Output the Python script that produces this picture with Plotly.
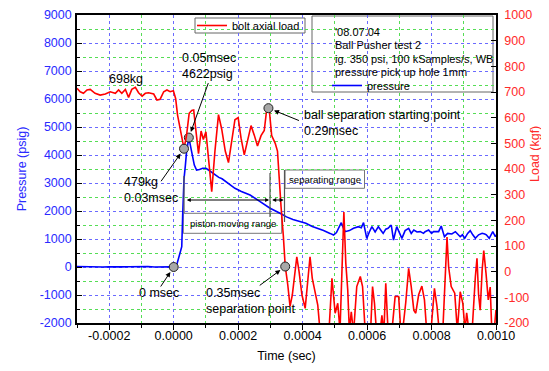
import plotly.graph_objects as go
import numpy as np

# ---------------- data (time in microseconds) ----------------
pressure_t_us = [-300, -280, -260, -240, -220, -200, -180, -160, -140, -120, -100, -80, -60, -40, -20, -10, 0,
                 5, 10, 14, 20, 25, 28, 30, 32, 36, 40, 47, 56, 64, 71, 80, 90, 100, 108, 118, 128, 140, 150,
                 170, 190, 210, 237, 260, 280, 299, 330, 350, 370, 390, 410, 430, 450, 465, 485, 496, 505,
                 513, 520, 527, 532, 545, 558, 573, 582, 589, 599, 607, 615, 625, 635, 645, 650, 658, 665,
                 675, 682, 692, 700, 708, 718, 729, 737, 745, 755, 765, 775, 780, 791, 800, 806, 815, 822,
                 830, 840, 850, 863, 874, 889, 896, 903, 912, 920, 928, 936, 946, 957, 965, 970, 979, 990,
                 998, 1000]
pressure_psig = [20, 10, 20, 15, 0, 10, 20, 5, 10, 15, 10, 20, 0, 10, 15, 5, 0,
                 30, 100, 250, 450, 725, 1900, 2700, 3150, 3600, 4120, 4622, 4120, 3640, 3464, 3480, 3525, 3525,
                 3464, 3380, 3290, 3200, 3150, 2990, 2810, 2700, 2571, 2400, 2250, 2100, 1920, 1790, 1700, 1640,
                 1560, 1450, 1380, 1300, 1200, 1140, 1230, 1420, 1583, 1380, 1262, 1300, 1381, 1440, 1400, 1583,
                 1024, 1250, 1440, 1250, 1440, 1280, 1200, 1350, 1381, 1500, 964, 1440, 1200, 1024, 1300, 1381,
                 1200, 1321, 1250, 1262, 1202, 1262, 1321, 1200, 1262, 1250, 1262, 1464, 1083, 1200, 1180, 1262,
                 1083, 1150, 1024, 1200, 1298, 1150, 1024, 1150, 1202, 1180, 1150, 1024, 1262, 1083, 1150]

load_t_us = [-300, -290, -280, -269, -259, -244, -228, -212, -197, -181, -171, -161, -150, -140, -130, -119,
             -109, -98, -88, -78, -62, -52, -42, -31, -21, -11, -1, 6, 12, 20, 27, 32, 40, 48, 56, 62, 68, 77,
             85, 92, 100, 108, 118, 128, 139, 149, 160, 170, 180, 190, 200, 209, 219, 230, 240, 250, 260, 271,
             281, 289, 296, 304, 315, 322, 328, 333, 340, 346, 354, 361, 368, 375, 382, 389, 398, 408, 415, 423,
             430, 439, 447, 454, 462, 472, 481, 491, 501, 509, 516, 528, 534, 540, 545, 551, 558, 568, 579, 586,
             594, 603, 611, 617, 623, 630, 640, 646, 652, 658, 665, 675, 687, 698, 705, 713, 720, 729, 737, 745,
             751, 760, 770, 778, 786, 797, 809, 817, 825, 835, 840, 848, 853, 861, 872, 880, 889, 897, 904, 909,
             916, 925, 936, 941, 946, 951, 957, 962, 969, 976, 982, 987, 993, 1000]
load_kgf = [714, 701, 695, 708, 710, 695, 688, 692, 701, 695, 708, 695, 710, 679, 710, 718,
            697, 684, 695, 697, 692, 669, 672, 701, 708, 701, 705, 675, 610, 559, 520, 479, 532, 617, 628, 630,
            560, 460, 548, 515, 545, 450, 312, 470, 612, 555, 470, 425, 500, 592, 600, 520, 455, 520, 569, 532,
            490, 530, 550, 637, 638, 530, 500, 470, 338, 255, 143, 22, -52, -135, -91, -20, 58, 0, -91, -143,
            -40, 58, -26, -78, -130, -230, -280, -300, -250, -26, -162, -123, -230, 232, 33, -71, -230, -156,
            -240, -58, -19, -58, -230, -260, -230, -58, -123, -250, -240, -170, -240, -45, -230, -260, -97, -97,
            -240, -200, -120, 13, -58, -150, -162, -90, -56, -110, -250, -250, -65, -136, -250, -230, -71, 135,
            19, -58, -84, -230, -78, -123, -230, -160, -230, -250, -19, 52, -90, -150, 6, 82, -6, -110, -60,
            -230, -250, -149]

# highlighted points
pmark_t_us = [0, 47]
pmark_psig = [0, 4622]
lmark_t_us = [32, 294, 346]
lmark_kgf = [479, 637, 20]

x_ticks = [-0.0002, 0.0, 0.0002, 0.0004, 0.0006, 0.0008, 0.0010]
x_labels = ["-0.0002", "0.0000", "0.0002", "0.0004", "0.0006", "0.0008", "0.0010"]
x_minor = [-0.0003, -0.0001, 0.0001, 0.0003, 0.0005, 0.0007, 0.0009]
yl_ticks = list(range(-2000, 9001, 1000))
yl_labels = [str(v) for v in yl_ticks]
yl_minor = list(range(-1500, 9000, 1000))
yr_ticks = list(range(-200, 1001, 100))
yr_labels = [str(v) for v in yr_ticks]

info_lines = ["'08.07.04", "Ball Pusher test 2", "ig. 350 psi, 100 kSamples/s, WB", "pressure pick up hole 1mm"]

# ---------------- layout helpers (page pixel coordinates) ----------------
OFF = 8                      # default page body margin
PAGE_W, PAGE_H = 549, 371
FIG_W, FIG_H = PAGE_W - OFF, PAGE_H - OFF
L, R, T, B = 77, 496, 15, 323   # plot area edges on the page
PW, PH = R - L, B - T


def fx(p):
    return (p - L) / PW


def fy(p):
    return 1 - (p - T) / PH


FONT = "Liberation Sans, Arial, sans-serif"
BLUE = "#0000ff"
RED = "#ff0000"
GRID_BLUE = "#6a6aff"
GRID_GREEN = "#55dd55"

us = 1e-6
fig = go.Figure()
fig.add_trace(go.Scatter(x=np.array(pressure_t_us) * us, y=pressure_psig, mode="lines",
                         line=dict(color=BLUE, width=1.6), name="pressure", legend="legend2"))
fig.add_trace(go.Scatter(x=np.array(load_t_us) * us, y=load_kgf, mode="lines", yaxis="y2",
                         line=dict(color=RED, width=1.6), name="bolt axial load", legend="legend"))
mk = dict(size=9, color="#a8a8a8", line=dict(color="#222222", width=1))
fig.add_trace(go.Scatter(x=np.array(pmark_t_us) * us, y=pmark_psig, mode="markers", marker=mk,
                         showlegend=False))
fig.add_trace(go.Scatter(x=np.array(lmark_t_us) * us, y=lmark_kgf, mode="markers", marker=mk,
                         yaxis="y2", showlegend=False))

shapes = []
# legend / info boxes
shapes.append(dict(type="rect", xref="paper", yref="paper", x0=fx(195), x1=fx(305), y0=fy(33), y1=fy(18),
                   line=dict(color="#666666", width=1), fillcolor="white", layer="between"))
shapes.append(dict(type="rect", xref="paper", yref="paper", x0=fx(312), x1=fx(493), y0=fy(92), y1=fy(16),
                   line=dict(color="#666666", width=1), fillcolor="white", layer="between"))
# range boxes
shapes.append(dict(type="rect", xref="paper", yref="paper", x0=fx(183.3), x1=fx(281.7), y0=fy(233.3),
                   y1=fy(213.3), line=dict(color="#777777", width=1), fillcolor="white", layer="between"))
shapes.append(dict(type="rect", xref="paper", yref="paper", x0=fx(285), x1=fx(364.5), y0=fy(188.3),
                   y1=fy(170), line=dict(color="#777777", width=1), fillcolor="white", layer="between"))
# vertical range markers
for xpx, ya, yb in [(184, 176, 213), (270, 173, 217), (284.5, 170, 222)]:
    shapes.append(dict(type="line", xref="paper", yref="paper", x0=fx(xpx), x1=fx(xpx), y0=fy(yb), y1=fy(ya),
                       line=dict(color="#555555", width=1.2), layer="above"))

ann = []


def text(xp, yp, s, size=12.5, xanchor="left", color="black", angle=0):
    ann.append(dict(xref="paper", yref="paper", x=fx(xp), y=fy(yp), text=s, showarrow=False, xanchor=xanchor,
                    yanchor="middle", align="left", textangle=angle,
                    font=dict(family=FONT, size=size, color=color)))


text(126, 79, "698kg", xanchor="center")
text(180, 65.5, "0.05msec<br>4622psig")
text(122, 189.5, "479kg<br>0.03msec")
text(302, 122.5, "ball separation starting point<br>0.29msec")
text(137, 293, "0 msec")
text(204, 300.5, "0.35msec<br>separation point")
text(232.5, 223.3, "piston moving range", size=9.6, xanchor="center")
text(324.7, 179.2, "separating range", size=9.6, xanchor="center")
for i, s in enumerate(info_lines):
    text(332.5, 31.7 + i * 13.4, s, size=11)
# right axis title
text(535, 154, "Load (kgf)", xanchor="center", color="#ff2a2a", angle=-90)


def arrow(xv, yv, yref, ax, ay, standoff=5):
    ann.append(dict(x=xv, y=yv, xref="x", yref=yref, ax=ax, ay=ay, axref="pixel", ayref="pixel",
                    text="", showarrow=True, arrowhead=2, arrowsize=1, arrowwidth=1, arrowcolor="black",
                    standoff=standoff))


arrow(pmark_t_us[1] * us, pmark_psig[1], "y", 20, -56, 6)
arrow(lmark_t_us[0] * us, lmark_kgf[0], "y2", -24, 34, 6)
arrow(lmark_t_us[1] * us, lmark_kgf[1], "y2", 32, 13, 6)
arrow(pmark_t_us[0] * us, pmark_psig[0], "y", -14, 21, 6)
arrow(lmark_t_us[2] * us, lmark_kgf[2], "y2", -27, 20, 6)

# double arrows (piston moving range / separating range)
for x0, x1 in [(36e-6, 296e-6), (301e-6, 341e-6)]:
    ann.append(dict(x=x1, y=2393, xref="x", yref="y", ax=x0, ay=2393, axref="x", ayref="y", text="",
                    showarrow=True, arrowhead=2, arrowside="end+start", arrowsize=0.8, arrowwidth=1,
                    arrowcolor="black", standoff=0, startstandoff=0))

fig.update_layout(
    width=FIG_W, height=FIG_H, autosize=False,
    margin=dict(l=L - OFF, r=PAGE_W - R, t=T - OFF, b=PAGE_H - B, pad=0, autoexpand=False),
    paper_bgcolor="white", plot_bgcolor="white",
    font=dict(family=FONT, size=12.5, color="black"),
    shapes=shapes, annotations=ann,
    legend=dict(x=fx(192), y=fy(25.5), xanchor="left", yanchor="middle", bgcolor="rgba(0,0,0,0)",
                borderwidth=0, font=dict(family=FONT, size=11, color="black"), itemwidth=30),
    legend2=dict(x=fx(327), y=fy(85.5), xanchor="left", yanchor="middle", bgcolor="rgba(0,0,0,0)",
                 borderwidth=0, font=dict(family=FONT, size=11, color="black"), itemwidth=30),
    xaxis=dict(range=[-0.0003, 0.0010], tickmode="array", tickvals=x_ticks, ticktext=x_labels,
               automargin=False, ticklabelstandoff=-5,
               ticks="outside", ticklen=5, tickcolor="black", tickwidth=1.2,
               showline=True, linecolor="black", linewidth=1.6, mirror=True, zeroline=False,
               showgrid=True, gridcolor=GRID_BLUE, griddash="dot", gridwidth=1,
               minor=dict(tickmode="array", tickvals=x_minor, ticks="outside", ticklen=3, tickcolor="black",
                          showgrid=True, gridcolor=GRID_GREEN, griddash="dot", gridwidth=1),
               tickfont=dict(family=FONT, size=12.5, color="black"),
               title=dict(text="Time (sec)", font=dict(family=FONT, size=12.5, color="black"), standoff=9)),
    yaxis=dict(range=[-2000, 9000], tickmode="array", tickvals=yl_ticks, ticktext=yl_labels,
               automargin=False,
               ticks="inside", ticklen=5, tickcolor="black", tickwidth=1.2,
               showline=True, linecolor="black", linewidth=1.6, mirror=True, zeroline=False,
               showgrid=True, gridcolor=GRID_BLUE, griddash="dot", gridwidth=1,
               minor=dict(tickmode="array", tickvals=yl_minor, ticks="inside", ticklen=3, tickcolor="black",
                          showgrid=True, gridcolor=GRID_GREEN, griddash="dot", gridwidth=1),
               ticklabelstandoff=1,
               tickfont=dict(family=FONT, size=12.5, color="#2a2aff"),
               title=dict(text="Pressure (psig)", font=dict(family=FONT, size=12.5, color="#2a2aff"),
                          standoff=10)),
    yaxis2=dict(range=[-200, 1000], overlaying="y", side="right", tickmode="array", tickvals=yr_ticks,
                ticktext=yr_labels, ticks="inside", ticklen=5, tickcolor="black", tickwidth=1.2,
                automargin=False,
                showline=True, linecolor="black", linewidth=1.6, showgrid=False, zeroline=False,
                ticklabelstandoff=4,
                tickfont=dict(family=FONT, size=12.5, color="#ff2a2a")),
)

fig.write_html("out.html")
